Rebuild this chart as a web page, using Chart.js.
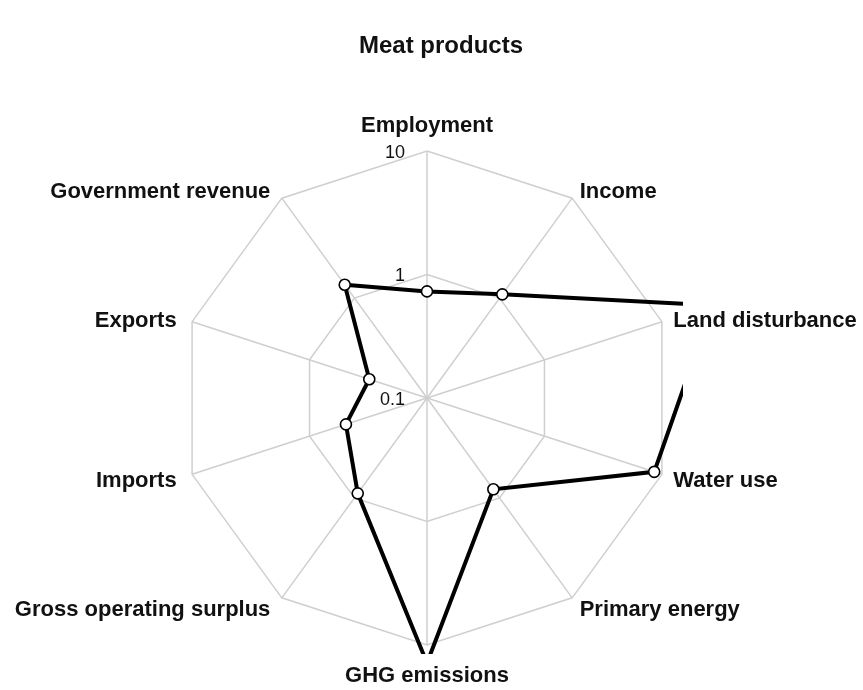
<!DOCTYPE html>
<html>
<head>
<meta charset="utf-8">
<title>Meat products</title>
<script src="https://cdn.jsdelivr.net/npm/chart.js@4.4.1/dist/chart.umd.min.js"></script>
<style>
  html, body { margin: 0; padding: 0; background: #fff; }
  #wrap { width: 863px; height: 690px; }
</style>
</head>
<body>
<div id="wrap"><canvas id="chart" width="863" height="690"></canvas></div>
<script>
const chartTitle = 'Meat products';
const axisLabels = ['Employment', 'Income', 'Land disturbance', 'Water use', 'Primary energy',
  'GHG emissions', 'Gross operating surplus', 'Imports', 'Exports', 'Government revenue'];
const meatValues = [0.73, 1.09, 27, 8.6, 0.82, 14, 0.90, 0.49, 0.31, 1.36];
const tickValues = [0.1, 1, 10];
const tickLabels = ['0.1', '1', '10'];

const FONT = '"Liberation Sans", Arial, sans-serif';

// the radial scale is linear only, so the log10 of each value is plotted
const log10 = v => Math.log10(v);

// title, axis names and tick labels are placed by hand around the scale
const radarText = {
  id: 'radarText',
  afterDraw(chart) {
    const ctx = chart.ctx;
    const r = chart.scales.r;
    const R = r.drawingArea;
    ctx.save();
    ctx.fillStyle = '#111';
    ctx.textBaseline = 'middle';

    ctx.font = 'bold 24px ' + FONT;
    ctx.textAlign = 'center';
    ctx.fillText(chartTitle, 441, 46);

    ctx.font = 'bold 22px ' + FONT;
    axisLabels.forEach((label, i) => {
      const p = r.getPointPosition(i, R + 11);
      const dx = p.x - r.xCenter;
      let x = p.x, y = p.y + 3;
      if (Math.abs(dx) < 1) {
        y = r.getPointPosition(i, R + 28).y + 3;
        ctx.textAlign = 'center';
      } else if (dx > 0) {
        ctx.textAlign = 'left';
        x += 1;
      } else {
        ctx.textAlign = 'right';
        x -= 5;
      }
      ctx.fillText(label, x, y);
    });

    ctx.font = '18px ' + FONT;
    ctx.textAlign = 'right';
    tickValues.forEach((v, i) => {
      const d = r.getDistanceFromCenterForValue(log10(v));
      ctx.fillText(tickLabels[i], r.xCenter - 22, r.yCenter - d + 2);
    });
    ctx.restore();
  }
};

new Chart(document.getElementById('chart'), {
  type: 'radar',
  data: {
    labels: axisLabels,
    datasets: [{
      label: chartTitle,
      data: meatValues.map(log10),
      borderColor: '#000',
      borderWidth: 4,
      fill: false,
      tension: 0,
      pointRadius: 5.5,
      pointBorderWidth: 1.6,
      pointBackgroundColor: '#fff',
      pointBorderColor: '#000',
      clip: 9,
    }],
  },
  options: {
    responsive: false,
    animation: false,
    layout: { padding: { left: 180, top: 151, right: 189, bottom: 45 } },
    plugins: {
      legend: { display: false },
      title: { display: false },
      tooltip: { enabled: false },
    },
    scales: {
      r: {
        min: -1,
        max: 1,
        ticks: { display: false, stepSize: 1 },
        pointLabels: { display: false },
        grid: { color: '#cfcfcf', lineWidth: 1.5 },
        angleLines: { color: '#cfcfcf', lineWidth: 1.5 },
      },
    },
  },
  plugins: [radarText],
});
</script>
</body>
</html>
